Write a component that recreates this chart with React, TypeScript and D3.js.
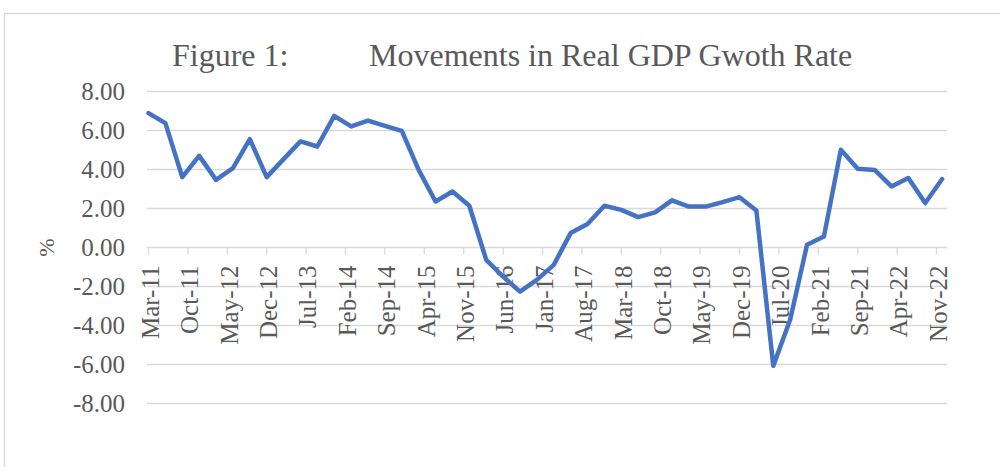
import * as d3 from "d3";
import React from "react";

const width = 1000;
const height = 467;

// quarterly observations, Mar-11 .. Dec-22
const quarters = [
  "Mar-11", "Jun-11", "Sep-11", "Dec-11",
  "Mar-12", "Jun-12", "Sep-12", "Dec-12",
  "Mar-13", "Jun-13", "Sep-13", "Dec-13",
  "Mar-14", "Jun-14", "Sep-14", "Dec-14",
  "Mar-15", "Jun-15", "Sep-15", "Dec-15",
  "Mar-16", "Jun-16", "Sep-16", "Dec-16",
  "Mar-17", "Jun-17", "Sep-17", "Dec-17",
  "Mar-18", "Jun-18", "Sep-18", "Dec-18",
  "Mar-19", "Jun-19", "Sep-19", "Dec-19",
  "Mar-20", "Jun-20", "Sep-20", "Dec-20",
  "Mar-21", "Jun-21", "Sep-21", "Dec-21",
  "Mar-22", "Jun-22", "Sep-22", "Dec-22",
];

const growth = [
  6.89, 6.38, 3.61, 4.70,
  3.47, 4.07, 5.56, 3.61,
  4.53, 5.44, 5.18, 6.75,
  6.21, 6.51, 6.24, 5.98,
  3.98, 2.36, 2.87, 2.14,
  -0.63, -1.49, -2.26, -1.66,
  -0.89, 0.74, 1.20, 2.14,
  1.93, 1.56, 1.80, 2.42,
  2.10, 2.10, 2.33, 2.58,
  1.90, -6.07, -3.71, 0.14,
  0.56, 5.01, 4.04, 3.98,
  3.13, 3.56, 2.28, 3.51,
];

const monthNames = ["Jan", "Feb", "Mar", "Apr", "May", "Jun", "Jul", "Aug", "Sep", "Oct", "Nov", "Dec"];

const yTicks = [8, 6, 4, 2, 0, -2, -4, -6, -8];

// months elapsed since Mar-11
const monthIndex = (label: string) => {
  const [m, yy] = label.split("-");
  return (+yy - 11) * 12 + monthNames.indexOf(m) - 2;
};
const monthLabel = (i: number) => {
  const abs = i + 2;
  return `${monthNames[abs % 12]}-${11 + Math.floor(abs / 12)}`;
};

const xTicks = d3.range(0, 141, 7);

const plotLeft = 147;
const plotRight = 947;

const x = d3.scaleLinear().domain([0, 140]).range([148.5, 936.5]);
const y = d3.scaleLinear().domain([-8, 8]).range([403.5, 91.5]);

const line = d3
  .line<number>()
  .x((_, i) => x(monthIndex(quarters[i])))
  .y((d) => y(d));

const font = "'Liberation Serif', 'Times New Roman', serif";
const textColor = "#595959";
const gridColor = "#d9d9d9";

export default function App() {
  return (
    <svg
      width={width}
      height={height}
      style={{ position: "absolute", left: 0, top: 0, background: "#fff" }}
      fontFamily={font}
    >
      <rect width={width} height={height} fill="#fff" />
      {/* chart frame */}
      <path d={`M4.5,${height} V13.5 H${width}`} fill="none" stroke={gridColor} strokeWidth={1.3} />

      <text x={172} y={66} fontSize={32} fill={textColor}>Figure 1:</text>
      <text x={369} y={66} fontSize={32} fill={textColor}>Movements in Real GDP Gwoth Rate</text>

      {yTicks.map((t) => (
        <g key={t}>
          <line x1={plotLeft} x2={plotRight} y1={y(t)} y2={y(t)} stroke={gridColor} strokeWidth={1.3} />
          <text x={125} y={y(t)} dy="0.33em" textAnchor="end" fontSize={25} fill={textColor}>
            {t.toFixed(2)}
          </text>
        </g>
      ))}

      <text
        transform={`translate(54,${y(0)}) rotate(-90)`}
        textAnchor="middle"
        fontSize={22}
        fill={textColor}
      >
        %
      </text>

      {xTicks.map((m) => (
        <g key={m}>
          <line x1={x(m)} x2={x(m)} y1={y(0)} y2={y(0) + 7} stroke={gridColor} strokeWidth={1.3} />
          <text
            transform={`translate(${x(m) + 2},${y(0) + 18}) rotate(-90)`}
            textAnchor="end"
            dy="0.33em"
            fontSize={25}
            fill={textColor}
          >
            {monthLabel(m)}
          </text>
        </g>
      ))}

      <path
        d={line(growth) ?? ""}
        fill="none"
        stroke="#4472c4"
        strokeWidth={4.5}
        strokeLinejoin="round"
        strokeLinecap="round"
      />
    </svg>
  );
}
